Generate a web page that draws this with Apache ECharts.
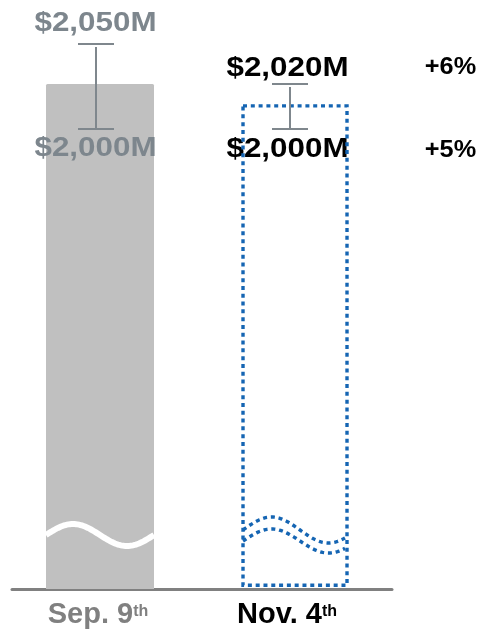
<!DOCTYPE html>
<html><head><meta charset="utf-8">
<script src="https://cdn.jsdelivr.net/npm/echarts@6/dist/echarts.min.js"></script>
<style>html,body{margin:0;padding:0;background:#fff}#c{width:481px;height:634px}</style>
</head><body><div id="c"></div>
<script>
// ---- data ($M) ----
const categories = ['Sep. 9th', 'Nov. 4th'];
const lowValues = [2000, 2000];
const highValues = [2050, 2020];
const barTops = [2026.5, 2010.3];      // schematic (broken) bar heights
const growthHigh = [null, '+6%'];
const growthLow = [null, '+5%'];

const FONT = '"Liberation Sans", Arial, Helvetica, sans-serif';
const GRAY_TXT = '#7d868d';
const WHISKER = '#7f878d';
const BLUE = '#1565b3';
const fmt = v => '$' + String(v).replace(/\B(?=(\d{3})+(?!\d))/g, ',') + 'M';

function txt(x, y, s, color, size, sx) {
  return { type: 'text', x: x, y: y, scaleX: sx, silent: true,
    style: { text: s, fill: color, font: 'bold ' + size + 'px ' + FONT, align: 'center', verticalAlign: 'middle' } };
}
function whisker(x, yHi, yLo) {
  const st = { stroke: WHISKER, lineWidth: 2 };
  return [
    { type: 'line', shape: { x1: x, y1: yHi + 3, x2: x, y2: yLo }, style: st },
    { type: 'line', shape: { x1: x - 18, y1: yHi, x2: x + 18, y2: yHi }, style: st },
    { type: 'line', shape: { x1: x - 18, y1: yLo, x2: x + 18, y2: yLo }, style: st }
  ];
}
function wave(x0, x1, yc, amp, period) {
  const pts = [];
  for (let x = x0; x <= x1 + 0.01; x += 1.5) {
    pts.push([x, yc - amp * Math.sin(2 * Math.PI * (x - x0) / period)]);
  }
  return pts;
}

function makeItem(i) {
  return [[i, barTops[i], lowValues[i], highValues[i]]];
}

function renderSep(params, api) {
  const i = api.value(0);
  const base = params.coordSys.y + params.coordSys.height;
  const c = api.coord([i, api.value(1)]);
  const cx = c[0], topY = c[1];
  const lowY = api.coord([i, api.value(2)])[1];
  const highY = api.coord([i, api.value(3)])[1];
  const ch = [
    { type: 'rect', shape: { x: cx - 54, y: topY, width: 108, height: base - topY, r: [1.5, 1.5, 0, 0] }, style: { fill: '#c0c0c0' } },
    { type: 'polyline', shape: { points: wave(cx - 54, cx + 54, base - 54, 11, 108) }, style: { stroke: '#fff', lineWidth: 6, fill: null } },
    txt(cx - 4.5, highY - 20.5, fmt(api.value(3)), GRAY_TXT, 28, 1.12),
    txt(cx - 4.5, lowY + 19, fmt(api.value(2)), GRAY_TXT, 28, 1.12)
  ].concat(whisker(cx - 4, highY, lowY));
  return { type: 'group', children: ch };
}

function renderNov(params, api) {
  const i = api.value(0);
  const base = params.coordSys.y + params.coordSys.height;
  const c = api.coord([i, api.value(1)]);
  const cx = c[0], topY = c[1];
  const lowY = api.coord([i, api.value(2)])[1];
  const highY = api.coord([i, api.value(3)])[1];
  const dot = { stroke: BLUE, lineWidth: 3.4, lineDash: [4, 3.8], fill: null };
  const L = cx - 52, R = cx + 52;
  const ch = [
    txt(cx - 7.5, highY - 15.7, fmt(api.value(3)), '#000', 28, 1.12),
    txt(cx - 7.5, lowY + 20, fmt(api.value(2)), '#000', 28, 1.12),
    { type: 'rect', shape: { x: L, y: topY, width: R - L, height: base - 3.7 - topY }, style: dot },
    { type: 'polyline', shape: { points: wave(L, R - 2, base - 59, 13, 114) }, style: dot },
    { type: 'polyline', shape: { points: wave(L, R - 1, base - 48, 12, 114) }, style: dot }
  ].concat(whisker(cx - 5, highY, lowY));
  if (growthHigh[i]) ch.push(txt(cx + 155.5, highY - 16, growthHigh[i], '#000', 23, 1.1));
  if (growthLow[i]) ch.push(txt(cx + 155.5, lowY + 22, growthLow[i], '#000', 23, 1.1));
  return { type: 'group', children: ch };
}

const chart = echarts.init(document.getElementById('c'), null, { renderer: 'canvas' });
chart.setOption({
  animation: false,
  backgroundColor: '#fff',
  grid: { left: 12, right: 89, top: 44, bottom: 45, containLabel: false },
  xAxis: {
    type: 'value', min: -0.4513, max: 1.4974,
    axisLine: { show: true, onZero: false, lineStyle: { color: '#808080', width: 3 } },
    axisTick: { show: false }, splitLine: { show: false },
    axisLabel: {
      customValues: [0, 1], margin: 12,
      formatter: function (v) {
        const s = categories[v];
        const main = s.slice(0, -2), sup = s.slice(-2);
        return v === 0 ? '{g|' + main + '}{gs|' + sup + '}' : '{b|' + main + '}{bs|' + sup + '}';
      },
      rich: {
        g: { fontSize: 29, fontWeight: 'bold', fontFamily: FONT, color: '#808080', lineHeight: 28 },
        gs: { fontSize: 16, fontWeight: 'bold', fontFamily: FONT, color: '#808080', lineHeight: 24, verticalAlign: 'top', padding: [3, 4, 0, 0] },
        b: { fontSize: 29, fontWeight: 'bold', fontFamily: FONT, color: '#000', lineHeight: 28 },
        bs: { fontSize: 16, fontWeight: 'bold', fontFamily: FONT, color: '#000', lineHeight: 24, verticalAlign: 'top', padding: [3, 16, 0, 0] }
      }
    }
  },
  yAxis: [
    { type: 'value', min: 1729.4, max: 2050, show: false, splitLine: { show: false } },
    { type: 'value', min: 1795.56, max: 2037.78, show: false, splitLine: { show: false } }
  ],
  series: [
    { type: 'custom', name: categories[0], xAxisIndex: 0, yAxisIndex: 0, silent: true, clip: false,
      data: makeItem(0), encode: { x: 0, y: [1, 2, 3] }, renderItem: renderSep },
    { type: 'custom', name: categories[1], xAxisIndex: 0, yAxisIndex: 1, silent: true, clip: false,
      data: makeItem(1), encode: { x: 0, y: [1, 2, 3] }, renderItem: renderNov }
  ]
});
</script></body></html>
